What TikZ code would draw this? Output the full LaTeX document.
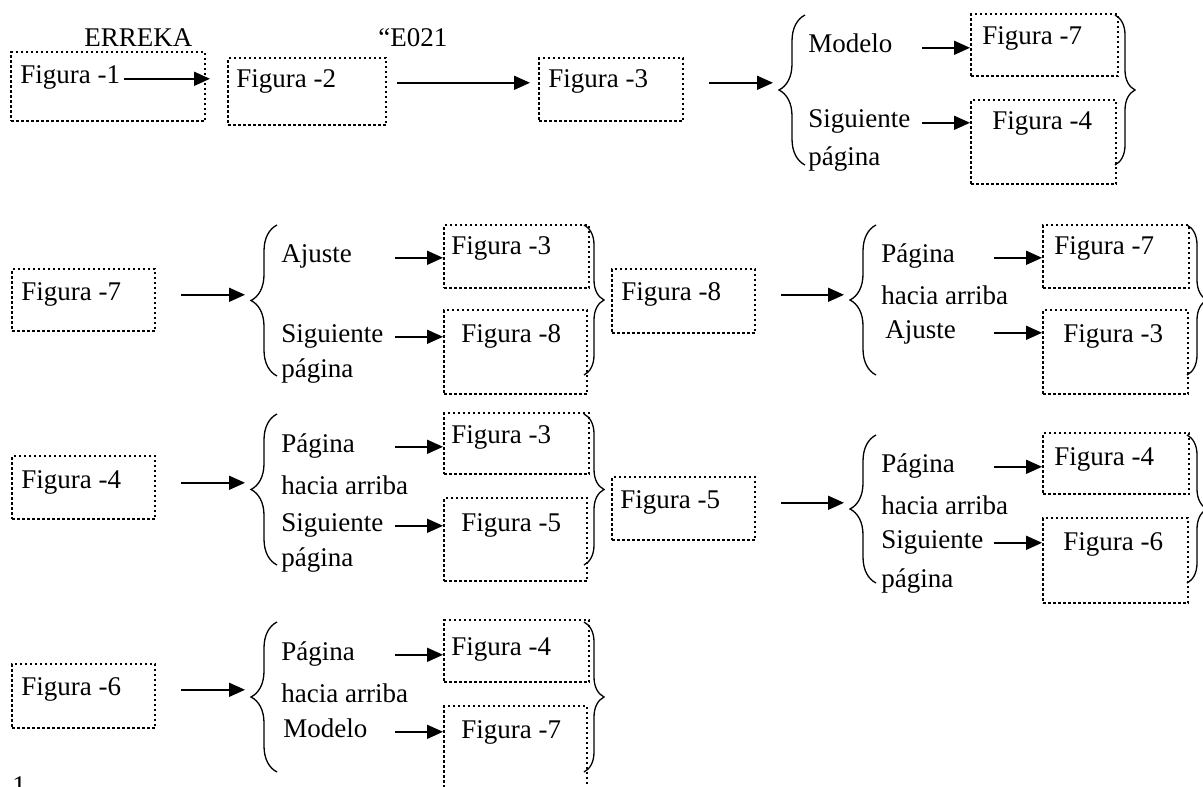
\documentclass[tikz,border=0pt]{standalone}
\usepackage{fontspec}
\setmainfont{Liberation Serif}
\usetikzlibrary{arrows.meta,calc,decorations.pathreplacing}

\begin{document}
\begin{tikzpicture}[x=0.5pt,y=-0.5pt,font=\fontsize{13.5}{16}\selectfont,
  fig/.style={draw,line width=1.2pt,dash pattern=on 1.2pt off 1.3pt,anchor=north west,inner sep=0pt},
  lbl/.style={anchor=base west,inner sep=0pt,text height=0.75em,text depth=0.23em},
  arr/.style={-{Triangle[length=8pt,width=7pt]},line width=0.85pt},
  lbr/.style={decorate,decoration={brace,amplitude=13pt},line width=0.65pt},
  rbr/.style={decorate,decoration={brace,amplitude=10pt},line width=0.65pt}]
\useasboundingbox (0,0) rectangle (1203,786);
\clip (0,0) rectangle (1203,786);

% row 1
\node[fig,minimum width=97pt,minimum height=34.5pt] (b1) at (10,51) {};
\node[lbl] (t1) at (20,84) {Figura -1};
\node[lbl] (erreka) at (84,47) {ERREKA};
\node[fig,minimum width=79pt,minimum height=33.5pt] (b2) at (227,57) {};
\node[lbl] (t2) at (236,88) {Figura -2};
\node[lbl] (code) at (378,47) {“E021};
\node[fig,minimum width=72pt,minimum height=31.5pt] (b3) at (538,57) {};
\node[lbl] (t3) at (548,88) {Figura -3};
\coordinate (k1) at (779,90);
\draw[lbr] (805,165) -- (805,15);
\node[lbl] (m1) at (808,53) {Modelo};
\node[lbl] (s1) at (808,128) {Siguiente};
\node[lbl] (p1) at (808,166) {página};
\node[fig,minimum width=73.5pt,minimum height=31pt] (b4) at (970,13) {};
\node[lbl] (t4) at (982,45) {Figura -7};
\node[fig,minimum width=72.5pt,minimum height=42pt] (b5) at (970,99) {};
\node[lbl] (t5) at (992,130) {Figura -4};
\draw[rbr] (1115,15) -- (1115,165);
\draw[arr,shorten <=1.5pt,shorten >=8.5pt] (t1.east) -- (t1.east -| b2.west);
\draw[arr,shorten <=5pt,shorten >=4pt] (t2.east -| b2.east) -- (t2.east -| b3.west);
\draw[arr,shorten <=12.5pt,shorten >=3pt] (t3.east -| b3.east) -- (t3.east -| k1);
\draw[arr] ($(b4.west |- m1.east)+(-48,0)$) -- (b4.west |- m1.east);
\draw[arr] ($(b5.west |- s1.east)+(-48,0)$) -- (b5.west |- s1.east);

% row 2
\node[fig,minimum width=71.5pt,minimum height=31pt] (b6) at (11,268) {};
\node[lbl] (t6) at (21,300) {Figura -7};
\coordinate (k2) at (251,300);
\draw[lbr] (277,376) -- (277,225);
\node[lbl] (a2) at (281,263) {Ajuste};
\node[lbl] (s2) at (281,342) {Siguiente};
\node[lbl] (p2) at (281,377) {página};
\node[fig,minimum width=72.5pt,minimum height=31.5pt] (b7) at (443,224) {};
\node[lbl] (t7) at (451,255) {Figura -3};
\node[fig,minimum width=71.5pt,minimum height=42pt] (b8) at (443,309) {};
\node[lbl] (t8) at (461,342) {Figura -8};
\draw[rbr] (584,225) -- (584,375);
\node[fig,minimum width=71.5pt,minimum height=32pt] (b9) at (611,268) {};
\node[lbl] (t9) at (621,300) {Figura -8};
\coordinate (k3) at (850,300);
\draw[lbr] (876,375) -- (876,225);
\node[lbl] (g3) at (881,263) {Página};
\node[lbl] (h3) at (881,304) {hacia arriba};
\node[lbl] (a3) at (885,338) {Ajuste};
\node[fig,minimum width=73pt,minimum height=31.5pt] (b10) at (1042,224) {};
\node[lbl] (t10) at (1054,255) {Figura -7};
\node[fig,minimum width=72.5pt,minimum height=42pt] (b11) at (1042,309) {};
\node[lbl] (t11) at (1063,342) {Figura -3};
\draw[rbr] (1187,225) -- (1187,375);
\draw[arr,shorten <=12.5pt,shorten >=3pt] (t6.east -| b6.east) -- (t6.east -| k2);
\draw[arr] ($(b7.west |- a2.east)+(-48,0)$) -- (b7.west |- a2.east);
\draw[arr] ($(b8.west |- s2.east)+(-48,0)$) -- (b8.west |- s2.east);
\draw[arr,shorten <=12.5pt,shorten >=3pt] (t9.east -| b9.east) -- (t9.east -| k3);
\draw[arr] ($(b10.west |- g3.east)+(-48,0)$) -- (b10.west |- g3.east);
\draw[arr] ($(b11.west |- a3.east)+(-48,0)$) -- (b11.west |- a3.east);

% row 3
\node[fig,minimum width=71.5pt,minimum height=31.5pt] (b12) at (11,455) {};
\node[lbl] (t12) at (21,488) {Figura -4};
\coordinate (k4) at (251,490);
\draw[lbr] (277,565) -- (277,414);
\node[lbl] (g4) at (281,452) {Página};
\node[lbl] (h4) at (281,494) {hacia arriba};
\node[lbl] (s4) at (281,531) {Siguiente};
\node[lbl] (p4) at (281,566) {página};
\node[fig,minimum width=72.5pt,minimum height=30.5pt] (b13) at (443,412) {};
\node[lbl] (t13) at (451,443) {Figura -3};
\node[fig,minimum width=71.5pt,minimum height=41.5pt] (b14) at (443,497) {};
\node[lbl] (t14) at (461,531) {Figura -5};
\draw[rbr] (584,414) -- (584,565);
\node[fig,minimum width=71.5pt,minimum height=31.5pt] (b15) at (611,476) {};
\node[lbl] (t15) at (620,508) {Figura -5};
\coordinate (k5) at (850,508);
\draw[lbr] (876,583) -- (876,435);
\node[lbl] (g5) at (881,472) {Página};
\node[lbl] (h5) at (881,514) {hacia arriba};
\node[lbl] (s5) at (881,548) {Siguiente};
\node[lbl] (p5) at (881,587) {página};
\node[fig,minimum width=73pt,minimum height=30.5pt] (b16) at (1042,432) {};
\node[lbl] (t16) at (1054,465) {Figura -4};
\node[fig,minimum width=72.5pt,minimum height=42.5pt] (b17) at (1042,517) {};
\node[lbl] (t17) at (1063,550) {Figura -6};
\draw[rbr] (1187,435) -- (1187,583);
\draw[arr,shorten <=12.5pt,shorten >=3pt] (t12.east -| b12.east) -- (t12.east -| k4);
\draw[arr] ($(b13.west |- g4.east)+(-48,0)$) -- (b13.west |- g4.east);
\draw[arr] ($(b14.west |- s4.east)+(-48,0)$) -- (b14.west |- s4.east);
\draw[arr,shorten <=12.5pt,shorten >=3pt] (t15.east -| b15.east) -- (t15.east -| k5);
\draw[arr] ($(b16.west |- g5.east)+(-48,0)$) -- (b16.west |- g5.east);
\draw[arr] ($(b17.west |- s5.east)+(-48,0)$) -- (b17.west |- s5.east);

% row 4
\node[fig,minimum width=71.5pt,minimum height=32pt] (b18) at (11,663) {};
\node[lbl] (t18) at (21,695) {Figura -6};
\coordinate (k6) at (251,697);
\draw[lbr] (277,772) -- (277,622);
\node[lbl] (g6) at (281,660) {Página};
\node[lbl] (h6) at (281,702) {hacia arriba};
\node[lbl] (m6) at (283,737) {Modelo};
\node[fig,minimum width=72.5pt,minimum height=31pt] (b19) at (443,619) {};
\node[lbl] (t19) at (451,655) {Figura -4};
\node[fig,minimum width=71.5pt,minimum height=47.5pt] (b20) at (443,705) {};
\node[lbl] (t20) at (461,738) {Figura -7};
\draw[rbr] (584,622) -- (584,772);
\draw[arr,shorten <=12.5pt,shorten >=3pt] (t18.east -| b18.east) -- (t18.east -| k6);
\draw[arr] ($(b19.west |- g6.east)+(-48,0)$) -- (b19.west |- g6.east);
\draw[arr] ($(b20.west |- m6.east)+(-48,0)$) -- (b20.west |- m6.east);
\node[lbl] (pg) at (12,794) {1};
\end{tikzpicture}
\end{document}
